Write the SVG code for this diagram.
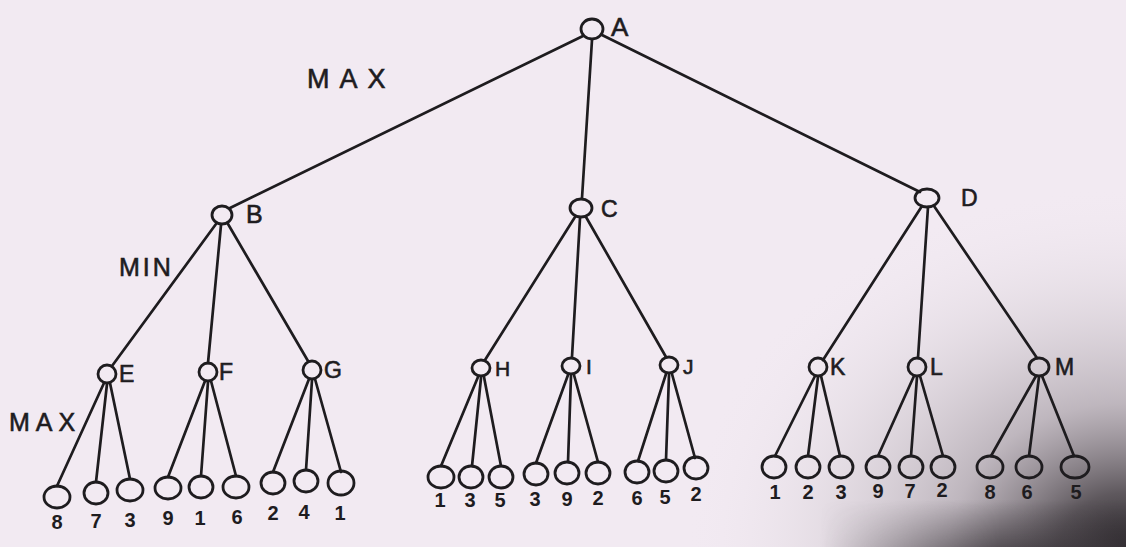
<svg xmlns="http://www.w3.org/2000/svg" width="1126" height="547" viewBox="0 0 1126 547">
<defs>
<style>
.n{fill:none;stroke:#1e1c1f;stroke-width:2.8}
.lf{fill:none;stroke:#1e1c1f;stroke-width:2.8}
.e line{stroke:#1e1c1f;stroke-width:2.7;stroke-linecap:round}
.t{font-family:"Liberation Sans",Arial,sans-serif;fill:#1e1c1f;stroke:#1e1c1f;stroke-width:0.6;font-size:23px}
.big{font-family:"Liberation Sans",Arial,sans-serif;fill:#1e1c1f;stroke:#1e1c1f;stroke-width:0.6;font-size:27px}
.num{font-family:"Liberation Sans",Arial,sans-serif;fill:#1e1c1f;font-size:20px;font-weight:bold;text-anchor:middle}
</style>
<radialGradient id="shade" cx="1126" cy="547" r="400" gradientUnits="userSpaceOnUse" gradientTransform="translate(1126 547) scale(1.1 0.9) translate(-1126 -547)">
<stop offset="0" stop-color="#2a262a" stop-opacity="1"/>
<stop offset="0.15" stop-color="#4e484d" stop-opacity="0.9"/>
<stop offset="0.4" stop-color="#948c93" stop-opacity="0.55"/>
<stop offset="0.75" stop-color="#cfc8ce" stop-opacity="0.25"/>
<stop offset="1" stop-color="#f1e9f1" stop-opacity="0"/>
</radialGradient>
<linearGradient id="band" x1="0" y1="547" x2="0" y2="500" gradientUnits="userSpaceOnUse">
<stop offset="0" stop-color="#3a353a" stop-opacity="0.7"/>
<stop offset="1" stop-color="#3a353a" stop-opacity="0"/>
</linearGradient>
<linearGradient id="bandx" x1="820" y1="0" x2="1000" y2="0" gradientUnits="userSpaceOnUse">
<stop offset="0" stop-color="#fff" stop-opacity="0"/>
<stop offset="1" stop-color="#fff" stop-opacity="1"/>
</linearGradient>
<mask id="bm"><rect x="0" y="0" width="1126" height="547" fill="url(#bandx)"/></mask>
</defs>
<rect width="1126" height="547" fill="#f2eaf2"/>
<rect width="1126" height="547" fill="url(#shade)"/>
<rect x="800" y="500" width="326" height="47" fill="url(#band)" mask="url(#bm)"/>

<g id="connectors" class="e">
<line x1="583" y1="36" x2="230" y2="208"/>
<line x1="592" y1="40" x2="582" y2="198"/>
<line x1="602" y1="35" x2="920" y2="192"/>
<line x1="216" y1="224" x2="112" y2="366"/>
<line x1="221" y1="225" x2="208" y2="363"/>
<line x1="228" y1="224" x2="308" y2="361"/>
<line x1="575" y1="217" x2="485" y2="360"/>
<line x1="580" y1="218" x2="572" y2="357"/>
<line x1="586" y1="217" x2="666" y2="357"/>
<line x1="922" y1="206" x2="823" y2="360"/>
<line x1="928" y1="207" x2="918" y2="358"/>
<line x1="934" y1="206" x2="1037" y2="358"/>
<line x1="104" y1="383" x2="57" y2="486"/>
<line x1="107" y1="384" x2="96" y2="482"/>
<line x1="110" y1="383" x2="130" y2="479"/>
<line x1="205" y1="381" x2="168" y2="477"/>
<line x1="208" y1="382" x2="201" y2="476"/>
<line x1="211" y1="381" x2="236" y2="476"/>
<line x1="309" y1="379" x2="273" y2="472"/>
<line x1="312" y1="380" x2="306" y2="470"/>
<line x1="315" y1="379" x2="341" y2="472"/>
<line x1="478" y1="377" x2="441" y2="466"/>
<line x1="481" y1="378" x2="472" y2="466"/>
<line x1="484" y1="377" x2="501" y2="466"/>
<line x1="568" y1="375" x2="536" y2="463"/>
<line x1="571" y1="376" x2="568" y2="462"/>
<line x1="574" y1="375" x2="598" y2="462"/>
<line x1="666" y1="374" x2="638" y2="461"/>
<line x1="669" y1="375" x2="666" y2="460"/>
<line x1="672" y1="374" x2="695" y2="458"/>
<line x1="815" y1="376" x2="775" y2="456"/>
<line x1="818" y1="377" x2="808" y2="456"/>
<line x1="821" y1="376" x2="840" y2="456"/>
<line x1="914" y1="376" x2="878" y2="456"/>
<line x1="917" y1="377" x2="911" y2="456"/>
<line x1="920" y1="376" x2="943" y2="456"/>
<line x1="1036" y1="376" x2="991" y2="456"/>
<line x1="1039" y1="377" x2="1029" y2="456"/>
<line x1="1042" y1="376" x2="1074" y2="456"/>
</g>

<g id="labels">
<text class="big" x="307" y="88" style="letter-spacing:10px">MAX</text>
<text class="big" x="119" y="276" style="font-size:25px;letter-spacing:3px">MIN</text>
<text class="big" x="9" y="431" style="font-size:25px;letter-spacing:6px">MAX</text>
</g>

<g id="node-A"><ellipse class="n" cx="592" cy="29" rx="11" ry="10"/><text class="t" x="611" y="36" style="font-size:26px">A</text></g>
<g id="node-B"><ellipse class="n" cx="222" cy="215" rx="10" ry="9"/><text class="t" x="246" y="223" style="font-size:25px">B</text></g>
<g id="node-C"><ellipse class="n" cx="581" cy="208" rx="11" ry="9"/><text class="t" x="601" y="217">C</text></g>
<g id="node-D"><ellipse class="n" cx="927" cy="198" rx="12" ry="9"/><text class="t" x="961" y="206">D</text></g>
<g id="node-E"><ellipse class="n" cx="107" cy="374" rx="9" ry="9"/><text class="t" x="119" y="382">E</text></g>
<g id="node-F"><ellipse class="n" cx="208" cy="372" rx="9" ry="9"/><text class="t" x="219" y="380">F</text></g>
<g id="node-G"><ellipse class="n" cx="312" cy="370" rx="9" ry="9"/><text class="t" x="324" y="378">G</text></g>
<g id="node-H"><ellipse class="n" cx="481" cy="368" rx="9" ry="8"/><text class="t" x="495" y="376" style="font-size:21px">H</text></g>
<g id="node-I"><ellipse class="n" cx="571" cy="366" rx="9" ry="8"/><text class="t" x="586" y="374" style="font-size:21px">I</text></g>
<g id="node-J"><ellipse class="n" cx="669" cy="365" rx="9" ry="8"/><text class="t" x="683" y="374" style="font-size:21px">J</text></g>
<g id="node-K"><ellipse class="n" cx="818" cy="367" rx="9" ry="9"/><text class="t" x="830" y="375">K</text></g>
<g id="node-L"><ellipse class="n" cx="917" cy="367" rx="9" ry="9"/><text class="t" x="930" y="375">L</text></g>
<g id="node-M"><ellipse class="n" cx="1039" cy="367" rx="10" ry="9"/><text class="t" x="1055" y="375">M</text></g>

<g id="leaves-E">
<ellipse class="lf" cx="57" cy="497" rx="13" ry="11"/><text class="num" x="57" y="529">8</text>
<ellipse class="lf" cx="96" cy="493" rx="12" ry="11"/><text class="num" x="96" y="528">7</text>
<ellipse class="lf" cx="130" cy="490" rx="13" ry="11"/><text class="num" x="130" y="527">3</text>
</g>
<g id="leaves-F">
<ellipse class="lf" cx="168" cy="488" rx="13" ry="11"/><text class="num" x="168" y="525">9</text>
<ellipse class="lf" cx="201" cy="487" rx="12" ry="11"/><text class="num" x="200" y="525">1</text>
<ellipse class="lf" cx="236" cy="487" rx="13" ry="11"/><text class="num" x="237" y="524">6</text>
</g>
<g id="leaves-G">
<ellipse class="lf" cx="273" cy="483" rx="12" ry="11"/><text class="num" x="273" y="520">2</text>
<ellipse class="lf" cx="306" cy="481" rx="12" ry="11"/><text class="num" x="304" y="519">4</text>
<ellipse class="lf" cx="341" cy="483" rx="13" ry="12"/><text class="num" x="340" y="520">1</text>
</g>
<g id="leaves-H">
<ellipse class="lf" cx="441" cy="477" rx="13" ry="11"/><text class="num" x="440" y="507">1</text>
<ellipse class="lf" cx="471" cy="477" rx="12" ry="11"/><text class="num" x="470" y="507">3</text>
<ellipse class="lf" cx="501" cy="477" rx="12" ry="11"/><text class="num" x="500" y="507">5</text>
</g>
<g id="leaves-I">
<ellipse class="lf" cx="536" cy="474" rx="12" ry="11"/><text class="num" x="535" y="506">3</text>
<ellipse class="lf" cx="567" cy="473" rx="12" ry="11"/><text class="num" x="567" y="506">9</text>
<ellipse class="lf" cx="598" cy="473" rx="12" ry="11"/><text class="num" x="598" y="505">2</text>
</g>
<g id="leaves-J">
<ellipse class="lf" cx="637" cy="472" rx="12" ry="11"/><text class="num" x="637" y="505">6</text>
<ellipse class="lf" cx="666" cy="471" rx="12" ry="11"/><text class="num" x="665" y="504">5</text>
<ellipse class="lf" cx="696" cy="468" rx="12" ry="11"/><text class="num" x="696" y="501">2</text>
</g>
<g id="leaves-K">
<ellipse class="lf" cx="774" cy="467" rx="12" ry="11"/><text class="num" x="775" y="499">1</text>
<ellipse class="lf" cx="808" cy="467" rx="12" ry="11"/><text class="num" x="808" y="499">2</text>
<ellipse class="lf" cx="841" cy="467" rx="12" ry="11"/><text class="num" x="841" y="499">3</text>
</g>
<g id="leaves-L">
<ellipse class="lf" cx="878" cy="467" rx="12" ry="11"/><text class="num" x="878" y="498">9</text>
<ellipse class="lf" cx="911" cy="467" rx="12" ry="11"/><text class="num" x="910" y="498">7</text>
<ellipse class="lf" cx="943" cy="467" rx="12" ry="11"/><text class="num" x="942" y="497">2</text>
</g>
<g id="leaves-M">
<ellipse class="lf" cx="990" cy="467" rx="13" ry="11"/><text class="num" x="990" y="499">8</text>
<ellipse class="lf" cx="1029" cy="467" rx="13" ry="11"/><text class="num" x="1027" y="499">6</text>
<ellipse class="lf" cx="1075" cy="467" rx="14" ry="11"/><text class="num" x="1076" y="499">5</text>
</g>
</svg>
